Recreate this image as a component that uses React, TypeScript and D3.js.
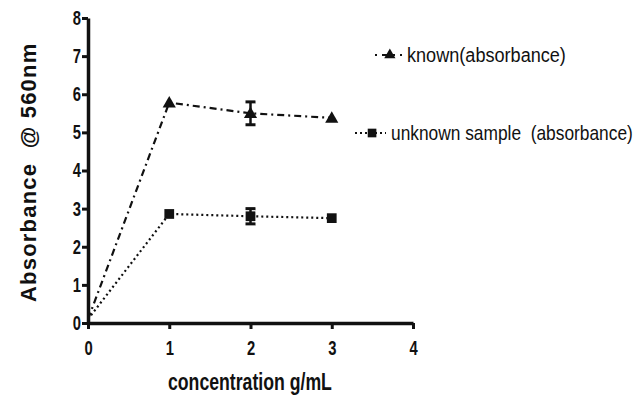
import * as d3 from "d3";
import { useEffect, useRef } from "react";

const width = 640;
const height = 400;
const margin = { top: 18, right: 227, bottom: 77, left: 88 };

// values
const concentrations = [0, 1, 2, 3];
const knownValues = [0.1, 5.78, 5.5, 5.38];
const knownErrors = [0, 0, 0.3, 0];
const unknownValues = [0.1, 2.86, 2.8, 2.75];
const unknownErrors = [0, 0, 0.2, 0];
const xTicks = [0, 1, 2, 3, 4];
const yTicks = [0, 1, 2, 3, 4, 5, 6, 7, 8];
const seriesNames = ["known(absorbance)", "unknown sample  (absorbance)"];

const font = "'Liberation Sans', Arial, sans-serif";

// squeeze a text horizontally so it spans `target` px
function fitText(t: d3.Selection<SVGTextElement, unknown, null, undefined>, x: number, y: number, target: number) {
  const natural = (t.node() as SVGTextElement).getComputedTextLength();
  t.attr("x", 0).attr("y", 0).attr("transform", `translate(${x},${y}) scale(${target / natural},1)`);
}

export default function App() {
  const svgRef = useRef<SVGSVGElement>(null);

  useEffect(() => {
    const svg = d3.select(svgRef.current);
    svg.selectAll("*").remove();

    const w = width - margin.left - margin.right;
    const h = height - margin.top - margin.bottom;

    const x = d3.scaleLinear().domain([0, 4]).range([0, w]);
    const y = d3.scaleLinear().domain([0, 8]).range([h, 0]);

    const g = svg.append("g").attr("transform", `translate(${margin.left},${margin.top})`);

    const series = [
      { name: seriesNames[0], values: knownValues, errors: knownErrors, dash: "7,4,2,4", marker: "triangle" },
      { name: seriesNames[1], values: unknownValues, errors: unknownErrors, dash: "2,3", marker: "square" },
    ];

    const line = d3
      .line<number>()
      .x((d, i) => x(concentrations[i]))
      .y((d) => y(d));

    series.forEach((s) => {
      g.append("path")
        .attr("d", line(s.values))
        .attr("fill", "none")
        .attr("stroke", "#111")
        .attr("stroke-width", 2.2)
        .attr("stroke-dasharray", s.dash);

      // error bars
      s.values.forEach((v, i) => {
        if (!s.errors[i]) return;
        const cx = x(concentrations[i]);
        const eb = g.append("g").attr("stroke", "#111");
        eb.append("line").attr("x1", cx).attr("x2", cx).attr("y1", y(v + s.errors[i])).attr("y2", y(v - s.errors[i])).attr("stroke-width", 2.5);
        [v + s.errors[i], v - s.errors[i]].forEach((e) => {
          eb.append("line").attr("x1", cx - 5).attr("x2", cx + 5).attr("y1", y(e)).attr("y2", y(e)).attr("stroke-width", 3);
        });
      });

      const sym = d3
        .symbol()
        .type(s.marker === "triangle" ? d3.symbolTriangle : d3.symbolSquare)
        .size(s.marker === "triangle" ? 75 : 95);
      g.selectAll(null)
        .data(s.values.slice(1))
        .enter()
        .append("path")
        .attr("d", sym())
        .attr("transform", (d, i) => `translate(${x(concentrations[i + 1])},${y(d) + (s.marker === "triangle" ? 1 : 0)})`)
        .attr("fill", "#111");
    });

    // axes
    const xAxis = g
      .append("g")
      .attr("transform", `translate(0,${h})`)
      .call(d3.axisBottom(x).tickValues(xTicks).tickFormat(d3.format("d")).tickSize(6).tickSizeOuter(0));
    const yAxis = g
      .append("g")
      .call(d3.axisLeft(y).tickValues(yTicks).tickFormat(d3.format("d")).tickSize(6).tickSizeOuter(0));

    const squeeze = 0.74;
    [xAxis, yAxis].forEach((a) => {
      a.select(".domain").attr("stroke", "#111").attr("stroke-width", 3.5);
      a.selectAll(".tick line").attr("stroke", "#111").attr("stroke-width", 3);
      a.selectAll(".tick text")
        .attr("fill", "#111")
        .attr("transform", `scale(${squeeze},1)`)
        .style("font-family", font)
        .style("font-weight", "bold")
        .style("font-size", "20px");
    });
    xAxis.selectAll(".tick text").attr("y", 18).attr("dy", "0.71em").attr("x", 0).attr("text-anchor", "middle");
    yAxis.selectAll(".tick text").attr("x", -7 / squeeze);

    // axis titles
    const xt = svg.append("text")
      .style("font-family", font)
      .style("font-weight", "bold")
      .style("font-size", "24px")
      .attr("fill", "#111")
      .text("concentration g/mL");
    fitText(xt, 168, 390, 164);

    svg.append("text")
      .attr("transform", `translate(36,302) rotate(-90)`)
      .style("font-family", font)
      .style("font-weight", "bold")
      .style("font-size", "22px")
      .style("letter-spacing", "1.2px")
      .style("white-space", "pre")
      .attr("fill", "#111")
      .text("Absorbance  @ 560nm");

    // legend
    const legend = [
      { name: seriesNames[0], dash: "2,5,7,4", x0: 375, x1: 402, ty: 55, tx: 407, tl: 159, sym: d3.symbolTriangle, size: 55 },
      { name: seriesNames[1], dash: "2,3", x0: 355, x1: 386, ty: 133, tx: 391, tl: 242, sym: d3.symbolSquare, size: 75 },
    ];
    legend.forEach((l) => {
      const lg = svg.append("g");
      lg.append("line")
        .attr("x1", l.x0)
        .attr("x2", l.x1)
        .attr("y1", l.ty)
        .attr("y2", l.ty)
        .attr("stroke", "#111")
        .attr("stroke-width", 2)
        .attr("stroke-dasharray", l.dash);
      lg.append("path")
        .attr("d", d3.symbol().type(l.sym).size(l.size)())
        .attr("transform", `translate(${l.x0 + (l.x1 - l.x0) * 0.55},${l.ty})`)
        .attr("fill", "#111");
      const t = lg.append("text")
        .attr("dy", "0.35em")
        .style("font-family", font)
        .style("font-size", "20px")
        .style("white-space", "pre")
        .attr("fill", "#111")
        .text(l.name);
      fitText(t, l.tx, l.ty, l.tl);
    });
  }, []);

  return (
    <svg
      ref={svgRef}
      width={width}
      height={height}
      style={{ display: "block", position: "absolute", left: 0, top: 0, background: "#fff" }}
    />
  );
}
